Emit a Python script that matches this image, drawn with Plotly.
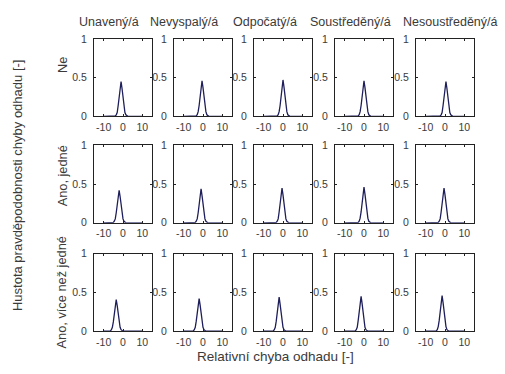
import plotly.graph_objects as go

STATES = ["Unavený/á", "Nevyspalý/á", "Odpočatý/á", "Soustředěný/á", "Nesoustředěný/á"]
ANSWERS = ["Ne", "Ano, jedné", "Ano, více než jedné"]

# relative estimation error grid
X_ERR = [-10, -7, -6.5, -6, -5.5, -5, -4.5, -4, -3.5, -3, -2.5, -2, -1.5, -1, -0.5,
         0, 0.5, 1, 1.5, 2, 2.5, 3, 3.5, 4, 4.5, 5, 10]
X_TICKS = [-10, 0, 10]
X_TICK_LABELS = ["-10", "0", "10"]
Y_TICKS = [0, 0.5, 1]
Y_TICK_LABELS = ["0", "0.5", "1"]

# probability density, row "Ne"
ne_unaveny = [0, 0, 0, 0, 0, 0, 0, 0.005, 0.02, 0.05, 0.14, 0.25, 0.36, 0.45, 0.36, 0.25, 0.14, 0.05, 0.02, 0.005, 0, 0, 0, 0, 0, 0, 0]
ne_nevyspaly = [0, 0, 0, 0, 0, 0, 0, 0, 0.005, 0.02, 0.06, 0.14, 0.25, 0.37, 0.46, 0.37, 0.25, 0.14, 0.06, 0.02, 0.005, 0, 0, 0, 0, 0, 0]
ne_odpocaty = [0, 0, 0, 0, 0, 0, 0, 0, 0, 0.005, 0.02, 0.06, 0.14, 0.26, 0.38, 0.47, 0.38, 0.26, 0.14, 0.06, 0.02, 0.005, 0, 0, 0, 0, 0]
ne_soustredeny = [0, 0, 0, 0, 0, 0, 0, 0, 0, 0.005, 0.02, 0.06, 0.14, 0.25, 0.37, 0.46, 0.37, 0.25, 0.14, 0.06, 0.02, 0.005, 0, 0, 0, 0, 0]
ne_nesoustredeny = [0, 0, 0, 0, 0, 0, 0, 0, 0, 0, 0.005, 0.02, 0.05, 0.14, 0.25, 0.36, 0.45, 0.36, 0.25, 0.14, 0.05, 0.02, 0.005, 0, 0, 0, 0]

# row "Ano, jedné"
jedne_unaveny = [0, 0, 0, 0, 0, 0.004, 0.02, 0.05, 0.13, 0.23, 0.34, 0.42, 0.34, 0.23, 0.13, 0.05, 0.02, 0.004, 0, 0, 0, 0, 0, 0, 0, 0, 0]
jedne_nevyspaly = [0, 0, 0, 0, 0, 0, 0, 0.004, 0.02, 0.05, 0.13, 0.24, 0.35, 0.44, 0.35, 0.24, 0.13, 0.05, 0.02, 0.004, 0, 0, 0, 0, 0, 0, 0]
jedne_odpocaty = [0, 0, 0, 0, 0, 0, 0, 0, 0.005, 0.02, 0.05, 0.14, 0.25, 0.36, 0.45, 0.36, 0.25, 0.14, 0.05, 0.02, 0.005, 0, 0, 0, 0, 0, 0]
jedne_soustredeny = [0, 0, 0, 0, 0, 0, 0, 0, 0, 0.005, 0.02, 0.06, 0.14, 0.25, 0.37, 0.46, 0.37, 0.25, 0.14, 0.06, 0.02, 0.005, 0, 0, 0, 0, 0]
jedne_nesoustredeny = [0, 0, 0, 0, 0, 0, 0, 0, 0.005, 0.02, 0.05, 0.14, 0.25, 0.36, 0.45, 0.36, 0.25, 0.14, 0.05, 0.02, 0.005, 0, 0, 0, 0, 0, 0]

# row "Ano, více než jedné"
vice_unaveny = [0, 0, 0.004, 0.02, 0.05, 0.12, 0.23, 0.33, 0.41, 0.33, 0.23, 0.12, 0.05, 0.02, 0.004, 0, 0, 0, 0, 0, 0, 0, 0, 0, 0, 0, 0]
vice_nevyspaly = [0, 0, 0, 0, 0, 0.004, 0.02, 0.05, 0.13, 0.23, 0.34, 0.42, 0.34, 0.23, 0.13, 0.05, 0.02, 0.004, 0, 0, 0, 0, 0, 0, 0, 0, 0]
vice_odpocaty = [0, 0, 0, 0, 0, 0.004, 0.02, 0.05, 0.13, 0.24, 0.35, 0.44, 0.35, 0.24, 0.13, 0.05, 0.02, 0.004, 0, 0, 0, 0, 0, 0, 0, 0, 0]
vice_soustredeny = [0, 0, 0, 0, 0, 0, 0.005, 0.02, 0.05, 0.14, 0.25, 0.36, 0.45, 0.36, 0.25, 0.14, 0.05, 0.02, 0.005, 0, 0, 0, 0, 0, 0, 0, 0]
vice_nesoustredeny = [0, 0, 0, 0, 0, 0, 0.005, 0.02, 0.06, 0.14, 0.25, 0.37, 0.46, 0.37, 0.25, 0.14, 0.06, 0.02, 0.005, 0, 0, 0, 0, 0, 0, 0, 0]

DENSITY = [
    [ne_unaveny, ne_nevyspaly, ne_odpocaty, ne_soustredeny, ne_nesoustredeny],
    [jedne_unaveny, jedne_nevyspaly, jedne_odpocaty, jedne_soustredeny, jedne_nesoustredeny],
    [vice_unaveny, vice_nevyspaly, vice_odpocaty, vice_soustredeny, vice_nesoustredeny],
]

W, H = 505, 374
FONT = "Liberation Sans, Arial, sans-serif"
TXT = "#3a3a3a"

# panel boxes in pixels
col_px = [(94, 152), (174, 232), (254, 312), (335, 393), (416, 474)]
row_px = [(34, 114), (144, 224), (256, 336)]

fig = go.Figure()
layout = {}
for r in range(3):
    for c in range(5):
        n = r * 5 + c + 1
        sfx = "" if n == 1 else str(n)
        fig.add_trace(go.Scatter(x=X_ERR, y=DENSITY[r][c], mode="lines",
                                 line=dict(color="#1e1e5a", width=1.3),
                                 xaxis="x" + sfx, yaxis="y" + sfx,
                                 showlegend=False, hoverinfo="skip"))
        x0, x1 = col_px[c]
        y0, y1 = row_px[r]
        common = dict(showline=True, mirror="ticks", linecolor="#222222", linewidth=1,
                      ticks="inside", ticklen=2, tickcolor="#222222",
                      showgrid=False, zeroline=False, fixedrange=True,
                      tickfont=dict(family=FONT, size=10.5, color=TXT))
        layout["xaxis" + sfx] = dict(common, domain=[x0 / W, x1 / W], range=[-15, 15],
                                     tickvals=X_TICKS, ticktext=X_TICK_LABELS,
                                     anchor="y" + sfx, ticklabelstandoff=1)
        layout["yaxis" + sfx] = dict(common, domain=[1 - y1 / H, 1 - y0 / H], range=[0, 1],
                                     tickvals=Y_TICKS, ticktext=Y_TICK_LABELS,
                                     anchor="x" + sfx, ticklabelstandoff=4)

fig.update_layout(**layout)

ann = []
title_x = [77, 148, 231, 308, 401]
for s, tx in zip(STATES, title_x):
    ann.append(dict(text=s, x=tx / W, y=1 - 17 / H, xanchor="left", yanchor="middle",
                    font=dict(size=12.5)))
row_y = [61, 176, 296]
for a, ry in zip(ANSWERS, row_y):
    ann.append(dict(text=a, x=62 / W, y=1 - ry / H, xanchor="center", yanchor="middle",
                    textangle=-90, font=dict(size=12.8)))
ann.append(dict(text="Hustota pravděpodobnosti chyby odhadu [-]", x=17 / W, y=1 - 185 / H,
                xanchor="center", yanchor="middle", textangle=-90, font=dict(size=13)))
ann.append(dict(text="Relativní chyba odhadu [-]", x=275 / W, y=1 - 362 / H,
                xanchor="center", yanchor="middle", font=dict(size=13.5)))
for a in ann:
    a.update(xref="paper", yref="paper", showarrow=False)
    a["font"].update(family=FONT, color=TXT)

fig.update_layout(width=W, height=H, margin=dict(l=0, r=0, t=0, b=0),
                  paper_bgcolor="white", plot_bgcolor="white",
                  annotations=ann)

# drop the browser's default page margin so the figure sits at the window corner
fig.write_html("out.html", config={"displayModeBar": False},
               post_script="document.body.style.margin='0';")
